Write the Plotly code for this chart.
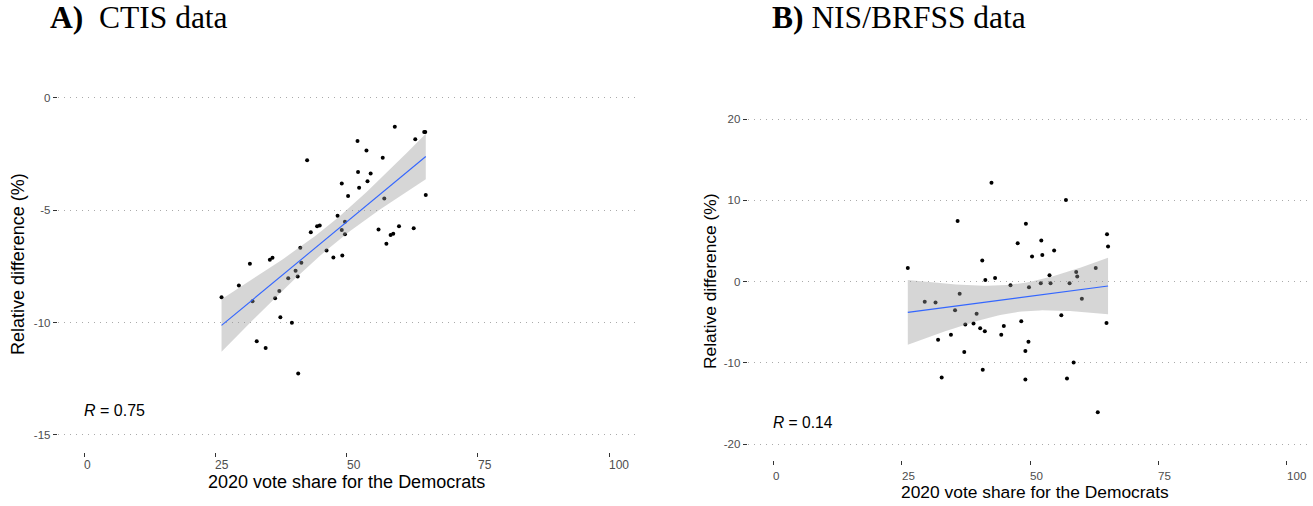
import numpy as np
import plotly.graph_objects as go

W, H = 1313, 506

# Panel A (CTIS): 2020 Democratic vote share vs relative difference (%), one point per state
ctis_vote = [26.2, 29.5, 31.6, 32.1, 32.9, 34.6, 35.4, 35.9, 36.4, 37.2,
             37.4, 38.9, 39.6, 40.3, 40.7, 40.8, 41.2, 41.4, 42.5, 43.2,
             44.4, 44.9, 46.2, 47.5, 48.3, 49.1, 49.1, 49.2, 49.7, 49.7,
             50.3, 52.1, 52.2, 52.4, 53.8, 54.0, 54.6, 56.1, 56.9, 57.2,
             57.6, 58.4, 58.9, 59.2, 60.0, 62.8, 63.1, 64.8, 65.0, 65.1]
ctis_diff = [-8.87, -8.35, -7.38, -9.05, -10.83, -11.13, -7.20, -7.11, -8.91, -8.59,
             -9.76, -8.02, -10.01, -7.69, -7.95, -12.26, -6.67, -7.34, -2.77, -5.98,
             -5.71, -5.68, -6.79, -7.10, -5.24, -3.81, -5.88, -7.01, -5.51, -6.07,
             -4.36, -1.92, -3.30, -4.00, -2.34, -3.71, -3.36, -5.86, -2.66, -4.48,
             -6.49, -6.10, -6.04, -1.28, -5.71, -5.80, -1.84, -1.52, -1.52, -4.32]

# Panel B (NIS/BRFSS)
nis_vote = [26.2, 29.5, 31.6, 32.1, 32.8, 34.6, 35.9, 36.3, 35.4, 37.2,
            37.4, 39.0, 39.6, 40.3, 40.7, 40.8, 41.2, 41.3, 42.5, 43.2,
            44.4, 44.9, 46.2, 47.6, 48.3, 49.1, 49.1, 49.2, 49.7, 49.8,
            50.4, 52.1, 52.2, 52.4, 53.8, 54.0, 54.7, 56.1, 57.0, 57.7,
            57.2, 58.5, 59.0, 59.2, 60.1, 62.8, 63.2, 64.9, 65.0, 65.2]
nis_diff = [1.66, -2.49, -2.57, -7.17, -11.81, -6.56, 7.45, -1.51, -3.55, -8.68,
            -5.30, -5.18, -3.96, -5.74, 2.60, -10.87, -6.11, 0.20, 12.17, 0.44,
            -6.56, -5.46, -0.45, 4.72, -4.89, -8.55, -12.06, 7.12, -7.42, -0.70,
            3.09, -0.21, 5.05, 3.25, 0.77, -0.21, 3.82, -4.15, 10.02, -0.21,
            -11.94, -9.98, 1.17, 0.61, -2.12, 1.66, -16.09, -5.09, 5.82, 4.31]

x_ticks = [0, 25, 50, 75, 100]
a_yticks = [0, -5, -10, -15]
b_yticks = [20, 10, 0, -10, -20]

panel_titles = ["<b>A)</b>\u00a0\u00a0CTIS data", "<b>B)</b>\u00a0NIS/BRFSS data"]
r_labels = ["<i>R</i> = 0.75", "<i>R</i> = 0.14"]
x_title = "2020 vote share for the Democrats"
y_title = "Relative difference (%)"


def lm_band(x, y, n=80, tcrit=2.0106):
    """Least-squares line with a 95% confidence band (like geom_smooth(method='lm'))."""
    x = np.asarray(x, float)
    y = np.asarray(y, float)
    b1, b0 = np.polyfit(x, y, 1)
    resid = y - (b0 + b1 * x)
    s = np.sqrt(np.sum(resid ** 2) / (len(x) - 2))
    xg = np.linspace(x.min(), x.max(), n)
    fit = b0 + b1 * xg
    se = s * np.sqrt(1 / len(x) + (xg - x.mean()) ** 2 / np.sum((x - x.mean()) ** 2))
    return xg, fit, fit - tcrit * se, fit + tcrit * se


def px_x(p):
    return p / W


def px_y(p):
    return 1 - p / H


SANS = "Liberation Sans"
SERIF = "Liberation Serif"
TICK_COL = "#4d4d4d"

fig = go.Figure()

panels = [
    dict(x=ctis_vote, y=ctis_diff, xa="x", ya="y"),
    dict(x=nis_vote, y=nis_diff, xa="x2", ya="y2"),
]

for p in panels:
    xg, fit, lo, hi = lm_band(p["x"], p["y"])
    fig.add_trace(go.Scatter(x=p["x"], y=p["y"], mode="markers",
                             marker=dict(color="black", size=4),
                             xaxis=p["xa"], yaxis=p["ya"], showlegend=False))
    fig.add_trace(go.Scatter(x=np.concatenate([xg, xg[::-1]]),
                             y=np.concatenate([hi, lo[::-1]]),
                             fill="toself", fillcolor="rgba(153,153,153,0.4)",
                             line=dict(width=0), mode="lines",
                             xaxis=p["xa"], yaxis=p["ya"], showlegend=False))
    fig.add_trace(go.Scatter(x=xg, y=fit, mode="lines",
                             line=dict(color="#3366FF", width=1.1),
                             xaxis=p["xa"], yaxis=p["ya"], showlegend=False))

common_x = dict(range=[-5, 105], showgrid=False, zeroline=False, showline=False,
                tickvals=x_ticks, showticklabels=False, ticks="outside",
                ticklen=4, tickwidth=1, tickcolor="#333333")
common_y = dict(showgrid=True, gridcolor="#aaaaaa", gridwidth=1.3,
                griddash="1.6px,4.4px", zeroline=False, showline=False,
                ticks="outside", ticklen=4, tickwidth=1, tickcolor="#333333",
                tickfont=dict(family=SANS, size=11.5, color=TICK_COL))

fig.update_layout(
    width=W, height=H, autosize=False,
    margin=dict(l=0, r=0, t=0, b=0),
    paper_bgcolor="white", plot_bgcolor="white",
    xaxis=dict(domain=[px_x(57.75), px_x(635.25)], anchor="y", **common_x),
    yaxis=dict(domain=[px_y(451.8), px_y(81.1)], anchor="x", range=[-15.75, 0.75],
               tickvals=a_yticks, ticktext=[str(v) for v in a_yticks], **common_y),
    xaxis2=dict(domain=[px_x(747.6), px_x(1312.4)], anchor="y2", **common_x),
    yaxis2=dict(domain=[px_y(460.3), px_y(102.75)], anchor="x2", range=[-22, 22],
                tickvals=b_yticks, ticktext=[str(v) for v in b_yticks], **common_y),
)

ann = []
# x tick labels, left-aligned on their tick marks
for xa, ypix, size in (("x", 464.5, 12), ("x2", 475, 11.6)):
    for v in x_ticks:
        ann.append(dict(x=v, xref=xa, y=px_y(ypix), yref="paper", text=str(v),
                        xanchor="left", yanchor="middle", xshift=-2, showarrow=False,
                        font=dict(family=SANS, size=size, color=TICK_COL)))

# axis titles
for cx, cy, size in ((346.5, 482, 18), (1035, 492, 17.4)):
    ann.append(dict(x=px_x(cx), y=px_y(cy), xref="paper", yref="paper", text=x_title,
                    xanchor="center", yanchor="middle", showarrow=False,
                    font=dict(family=SANS, size=size, color="black")))
for cx, cy, size in ((18, 264, 18), (710, 281, 17.4)):
    ann.append(dict(x=px_x(cx), y=px_y(cy), xref="paper", yref="paper", text=y_title,
                    textangle=-90, xanchor="center", yanchor="middle", showarrow=False,
                    font=dict(family=SANS, size=size, color="black")))

# correlation labels
for xa, ya, yv, lab, size in (("x", "y", -13.9, r_labels[0], 16), ("x2", "y2", -17.3, r_labels[1], 15.6)):
    ann.append(dict(x=0, y=yv, xref=xa, yref=ya, text=lab, xanchor="left",
                    yanchor="middle", xshift=-2, showarrow=False,
                    font=dict(family=SANS, size=size, color="black")))

# panel titles
for cx, title in ((50, panel_titles[0]), (772, panel_titles[1])):
    ann.append(dict(x=px_x(cx), y=px_y(17), xref="paper", yref="paper", text=title,
                    xanchor="left", yanchor="middle", xshift=-2, showarrow=False,
                    font=dict(family=SERIF, size=31.5, color="black")))

fig.update_layout(annotations=ann)

fig.write_html("out.html")
